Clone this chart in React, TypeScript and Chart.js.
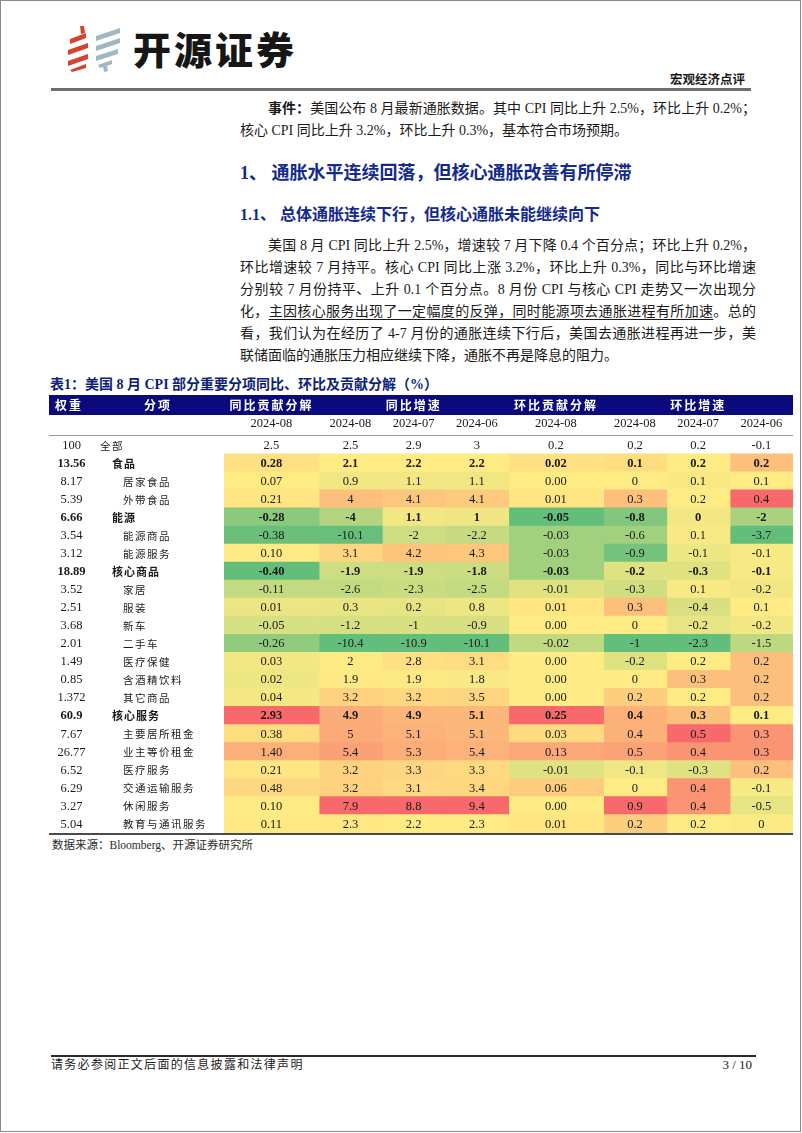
import React, { useEffect, useRef } from "react";
import { Chart, registerables } from "chart.js";

Chart.register(...registerables);

// ---------------- data ----------------
const WEIGHTS = [100, 13.56, 8.17, 5.39, 6.66, 3.54, 3.12, 18.89, 3.52, 2.51, 3.68, 2.01, 1.49, 0.85, 1.372, 60.9, 7.67, 26.77, 6.52, 6.29, 3.27, 5.04];
const ITEMS = ["全部", "食品", "居家食品", "外带食品", "能源", "能源商品", "能源服务", "核心商品", "家居", "服装", "新车", "二手车", "医疗保健", "含酒精饮料", "其它商品", "核心服务", "主要居所租金", "业主等价租金", "医疗服务", "交通运输服务", "休闲服务", "教育与通讯服务"];
const LEVELS = [0, 1, 2, 2, 1, 2, 2, 1, 2, 2, 2, 2, 2, 2, 2, 1, 2, 2, 2, 2, 2, 2];
const GROUPS = ["同比贡献分解", "同比增速", "环比贡献分解", "环比增速"];
const DATES = ["2024-08", "2024-08", "2024-07", "2024-06", "2024-08", "2024-08", "2024-07", "2024-06"];

const YOY_CONTRIB = [2.5, 0.28, 0.07, 0.21, -0.28, -0.38, 0.10, -0.40, -0.11, 0.01, -0.05, -0.26, 0.03, 0.02, 0.04, 2.93, 0.38, 1.40, 0.21, 0.48, 0.10, 0.11];
const YOY_AUG = [2.5, 2.1, 0.9, 4, -4, -10.1, 3.1, -1.9, -2.6, 0.3, -1.2, -10.4, 2, 1.9, 3.2, 4.9, 5, 5.4, 3.2, 3.2, 7.9, 2.3];
const YOY_JUL = [2.9, 2.2, 1.1, 4.1, 1.1, -2, 4.2, -1.9, -2.3, 0.2, -1, -10.9, 2.8, 1.9, 3.2, 4.9, 5.1, 5.3, 3.3, 3.1, 8.8, 2.2];
const YOY_JUN = [3, 2.2, 1.1, 4.1, 1, -2.2, 4.3, -1.8, -2.5, 0.8, -0.9, -10.1, 3.1, 1.8, 3.5, 5.1, 5.1, 5.4, 3.3, 3.4, 9.4, 2.3];
const MOM_CONTRIB = [0.2, 0.02, 0.00, 0.01, -0.05, -0.03, -0.03, -0.03, -0.01, 0.01, 0.00, -0.02, 0.00, 0.00, 0.00, 0.25, 0.03, 0.13, -0.01, 0.06, 0.00, 0.01];
const MOM_AUG = [0.2, 0.1, 0, 0.3, -0.8, -0.6, -0.9, -0.2, -0.3, 0.3, 0, -1, -0.2, 0, 0.2, 0.4, 0.4, 0.5, -0.1, 0, 0.9, 0.2];
const MOM_JUL = [0.2, 0.2, 0.1, 0.2, 0, 0.1, -0.1, -0.3, 0.1, -0.4, -0.2, -2.3, 0.2, 0.3, 0.2, 0.3, 0.5, 0.4, -0.3, 0.4, 0.4, 0.2];
const MOM_JUN = [-0.1, 0.2, 0.1, 0.4, -2, -3.7, -0.1, -0.1, -0.2, 0.1, -0.2, -1.5, 0.2, 0.2, 0.2, 0.1, 0.3, 0.3, 0.2, -0.1, -0.5, 0];

const COLUMNS = [YOY_CONTRIB, YOY_AUG, YOY_JUL, YOY_JUN, MOM_CONTRIB, MOM_AUG, MOM_JUL, MOM_JUN];
const CONTRIB_COLS = [0, 4];

// ---------------- layout / style ----------------
const COL_UNITS = [1.5, 1, 1, 1, 1.5, 1, 1, 1];
const GROUP_SPAN = [[0, 0], [1, 3], [4, 4], [5, 7]];
const EDGES: number[] = [0];
COL_UNITS.forEach((u) => EDGES.push(EDGES[EDGES.length - 1] + u));
const CENTERS = COL_UNITS.map((u, i) => EDGES[i] + u / 2);

const SERIF = '"Liberation Serif", "Times New Roman", "Noto Sans CJK SC", serif';
const CJK = '"Noto Sans CJK SC", sans-serif';
const NAVY = "#0a0a7c";
const HEAD_BLUE = "#142a8c";
const RED = [248, 105, 107];
const YEL = [255, 235, 132];
const GRN = [99, 190, 123];

function mix(a: number[], b: number[], t: number) {
  const c = a.map((v, i) => Math.round(v + (b[i] - v) * t));
  return `rgb(${c[0]},${c[1]},${c[2]})`;
}

function heatColor(vals: number[], v: number) {
  const s = vals.slice(1).sort((a, b) => a - b);
  const min = s[0];
  const max = s[s.length - 1];
  const pos = (s.length - 1) * 0.5;
  const lo = Math.floor(pos);
  const mid = s[lo] + (s[Math.min(lo + 1, s.length - 1)] - s[lo]) * (pos - lo);
  if (v >= mid) return mix(YEL, RED, max === mid ? 0 : (v - mid) / (max - mid));
  return mix(YEL, GRN, mid === min ? 0 : (mid - v) / (mid - min));
}

function fmt(c: number, r: number, v: number) {
  if (CONTRIB_COLS.includes(c) && r > 0) return v.toFixed(2);
  return String(v);
}

const tablePlugin = {
  id: "tableText",
  afterDraw(chart: any) {
    const { ctx, chartArea } = chart;
    const x = chart.scales.x;
    const y = chart.scales.y;
    const W = chart.width;
    ctx.save();
    // header bar
    ctx.fillStyle = NAVY;
    ctx.fillRect(0, 5, W, 20);
    ctx.fillStyle = "#ffffff";
    ctx.font = `bold 12px ${CJK}`;
    ctx.textAlign = "center";
    ctx.textBaseline = "middle";
    (ctx as any).letterSpacing = "2px";
    ctx.fillText("权重", 20, 15);
    ctx.fillText("分项", 109, 15);
    GROUPS.forEach((g, i) => {
      const [a, b] = GROUP_SPAN[i];
      ctx.fillText(g, x.getPixelForValue((EDGES[a] + EDGES[b + 1]) / 2), 15);
    });
    // lines
    ctx.fillStyle = "#9a9a9a";
    ctx.fillRect(0, chartArea.top - 1, W, 1);
    ctx.fillStyle = "#4a4a4a";
    ctx.fillRect(0, chartArea.bottom, W, 2);
    // cell values
    ctx.fillStyle = "#1a1a1a";
    (ctx as any).letterSpacing = "0px";
    COLUMNS.forEach((vals, c) => {
      vals.forEach((v, r) => {
        ctx.font = `${LEVELS[r] === 1 ? "bold " : ""}12.5px ${SERIF}`;
        ctx.textAlign = "center";
        ctx.fillText(fmt(c, r, v), x.getPixelForValue(CENTERS[c]), y.getPixelForValue(r) + 0.5);
      });
    });
    // weights & item names
    ITEMS.forEach((name, r) => {
      const py = y.getPixelForValue(r) + 0.5;
      const bold = LEVELS[r] === 1;
      ctx.font = `${bold ? "bold " : ""}12.5px ${SERIF}`;
      ctx.textAlign = "center";
      (ctx as any).letterSpacing = "0px";
      ctx.fillText(String(WEIGHTS[r]), 22.5, py);
      ctx.textAlign = "left";
      ctx.font = `${bold ? "bold 11px" : "10.5px"} ${CJK}`;
      (ctx as any).letterSpacing = bold ? "1px" : "1.5px";
      const lx = LEVELS[r] === 0 ? 51 : LEVELS[r] === 1 ? 63 : 74;
      ctx.fillText(name, lx, py);
    });
    ctx.restore();
  },
};

type Part = { t: string; b?: boolean; u?: boolean };
type Line = { cy: number; left: number; size: number; justify?: boolean; bold?: boolean; color?: string; parts: Part[] };

const RIGHT = 756;
const LINES: Line[] = [
  { cy: 109, left: 268, size: 14, justify: true, parts: [{ t: "事件：", b: true }, { t: "美国公布 8 月最新通胀数据。其中 CPI 同比上升 2.5%，环比上升 0.2%；" }] },
  { cy: 131, left: 240, size: 14, parts: [{ t: "核心 CPI 同比上升 3.2%，环比上升 0.3%，基本符合市场预期。" }] },
  { cy: 173, left: 240, size: 18, bold: true, color: HEAD_BLUE, parts: [{ t: "1、 通胀水平连续回落，但核心通胀改善有所停滞" }] },
  { cy: 215, left: 240, size: 16, bold: true, color: HEAD_BLUE, parts: [{ t: "1.1、 总体通胀连续下行，但核心通胀未能继续向下" }] },
  { cy: 246, left: 268, size: 14, justify: true, parts: [{ t: "美国 8 月 CPI 同比上升 2.5%，增速较 7 月下降 0.4 个百分点；环比上升 0.2%，" }] },
  { cy: 268, left: 240, size: 14, justify: true, parts: [{ t: "环比增速较 7 月持平。核心 CPI 同比上涨 3.2%，环比上升 0.3%，同比与环比增速" }] },
  { cy: 290, left: 240, size: 14, justify: true, parts: [{ t: "分别较 7 月份持平、上升 0.1 个百分点。8 月份 CPI 与核心 CPI 走势又一次出现分" }] },
  { cy: 312, left: 240, size: 14, justify: true, parts: [{ t: "化，" }, { t: "主因核心服务出现了一定幅度的反弹，同时能源项去通胀进程有所加速", u: true }, { t: "。总的" }] },
  { cy: 334, left: 240, size: 14, justify: true, parts: [{ t: "看，我们认为在经历了 4-7 月份的通胀连续下行后，美国去通胀进程再进一步，美" }] },
  { cy: 356, left: 240, size: 14, parts: [{ t: "联储面临的通胀压力相应继续下降，通胀不再是降息的阻力。" }] },
];

function TextLine({ line }: { line: Line }) {
  const lh = 22;
  return (
    <div
      style={{
        position: "absolute",
        left: line.left,
        top: line.cy - lh / 2,
        width: line.justify ? RIGHT - line.left : undefined,
        height: lh,
        lineHeight: `${lh}px`,
        fontSize: line.size,
        fontWeight: line.bold ? 700 : 400,
        color: line.color || "#1a1a1a",
        fontFamily: SERIF,
        whiteSpace: "nowrap",
        textAlign: line.justify ? "justify" : "left",
        textAlignLast: line.justify ? "justify" : "left",
      } as any}
    >
      {line.parts.map((p, i) => (
        <span key={i} style={{ fontWeight: p.b ? 700 : undefined, textDecoration: p.u ? "underline" : undefined, textUnderlineOffset: 3 }}>
          {p.t}
        </span>
      ))}
    </div>
  );
}

function Logo() {
  const red = "#d8402f";
  const blue = "#9fb8c4";
  return (
    <svg width={140} height={90} style={{ position: "absolute", left: 0, top: 0 }}>
      <polygon points="80,26 84,26 85,33 81,34" fill={red} />
      <polygon points="70,39 86,33 86,38 70,44" fill={red} />
      <polygon points="68,50 88,43 88,48 68,55" fill={red} />
      <polygon points="68,61 88,54 88,59 68,66" fill={red} />
      <polygon points="70,70 86,64 86,68 72,72" fill={red} />
      <polygon points="96,36 120,28 120,33 96,41" fill={blue} />
      <polygon points="96,46 120,38 120,43 96,51" fill={blue} />
      <polygon points="96,56 118,49 118,54 96,61" fill={blue} />
      <polygon points="98,65 112,60 112,64 100,68" fill={blue} />
      <polygon points="103,66 107,65 108,71 104,72" fill={blue} />
    </svg>
  );
}

export default function App() {
  const ref = useRef<HTMLCanvasElement>(null);

  useEffect(() => {
    if (!ref.current) return;
    const datasets = COLUMNS.map((vals, c) => ({
      label: DATES[c],
      data: vals.map(() => [EDGES[c], EDGES[c + 1]]),
      backgroundColor: vals.map((v, r) => (r === 0 ? "rgba(0,0,0,0)" : heatColor(vals, v))),
      borderWidth: 0,
      barPercentage: 1,
      categoryPercentage: 1,
      inflateAmount: 0.6,
      grouped: false,
    }));
    const chart = new Chart(ref.current, {
      type: "bar",
      data: { labels: ITEMS, datasets: datasets as any },
      options: {
        indexAxis: "y",
        responsive: false,
        animation: false,
        devicePixelRatio: 1,
        layout: { padding: { left: 175, right: 0, top: 26, bottom: 4 } },
        plugins: { legend: { display: false }, tooltip: { enabled: false } },
        scales: {
          x: {
            type: "linear",
            position: "top",
            min: 0,
            max: EDGES[EDGES.length - 1],
            grid: { display: false, drawTicks: false },
            border: { display: false },
            afterBuildTicks: (s: any) => {
              s.ticks = CENTERS.map((v) => ({ value: v }));
            },
            afterFit: (s: any) => {
              s.height = 20;
            },
            ticks: {
              autoSkip: false,
              maxRotation: 0,
              padding: 5,
              color: "#1a1a1a",
              font: { family: SERIF, size: 12.5 },
              callback: (_v: any, i: number) => DATES[i],
            },
          },
          y: { type: "category", display: false, offset: true, grid: { display: false } },
        },
      } as any,
      plugins: [tablePlugin],
    });
    return () => chart.destroy();
  }, []);

  return (
    <div style={{ position: "absolute", left: 0, top: 0, width: 802, height: 1133, background: "#fff", overflow: "hidden", fontFamily: SERIF, color: "#1a1a1a" }}>
      <div style={{ position: "absolute", left: 0, top: 0, width: 799, height: 1130, border: "1.5px solid #8a8a8a" }} />
      <Logo />
      <div style={{ position: "absolute", left: 133, top: 29, fontFamily: CJK, fontWeight: 900, fontSize: 38, lineHeight: "38px", letterSpacing: 3, color: "#161616" }}>开源证券</div>
      <div style={{ position: "absolute", right: 802 - 745, top: 72, fontFamily: SERIF, fontWeight: 700, fontSize: 12.5, lineHeight: "16px", color: "#1a1a1a" }}>宏观经济点评</div>
      <div style={{ position: "absolute", left: 51, top: 88, width: 700, height: 3, background: "#6e6e6e" }} />
      {LINES.map((l, i) => (
        <TextLine key={i} line={l} />
      ))}
      <div style={{ position: "absolute", left: 50, top: 375, fontSize: 14, lineHeight: "20px", fontWeight: 700, color: "#0e1f7a", whiteSpace: "nowrap", fontFamily: SERIF }}>
        表1：美国 8 月 CPI 部分重要分项同比、环比及贡献分解（%）
      </div>
      <canvas ref={ref} width={744} height={447} style={{ position: "absolute", left: 49, top: 390, width: 744, height: 447 }} />
      <div style={{ position: "absolute", left: 52, top: 837, fontSize: 11.5, lineHeight: "16px", color: "#2a2a2a", whiteSpace: "nowrap", fontFamily: SERIF }}>
        数据来源：Bloomberg、开源证券研究所
      </div>
      <div style={{ position: "absolute", left: 51, top: 1055, width: 705, height: 1.5, background: "#2a2a2a" }} />
      <div style={{ position: "absolute", left: 51, top: 1057, fontSize: 12, lineHeight: "16px", letterSpacing: 1.3, color: "#1a1a1a", whiteSpace: "nowrap", fontFamily: SERIF }}>
        请务必参阅正文后面的信息披露和法律声明
      </div>
      <div style={{ position: "absolute", right: 802 - 752, top: 1057, fontSize: 13, lineHeight: "16px", color: "#1a1a1a", whiteSpace: "nowrap", fontFamily: SERIF }}>3 / 10</div>
    </div>
  );
}
